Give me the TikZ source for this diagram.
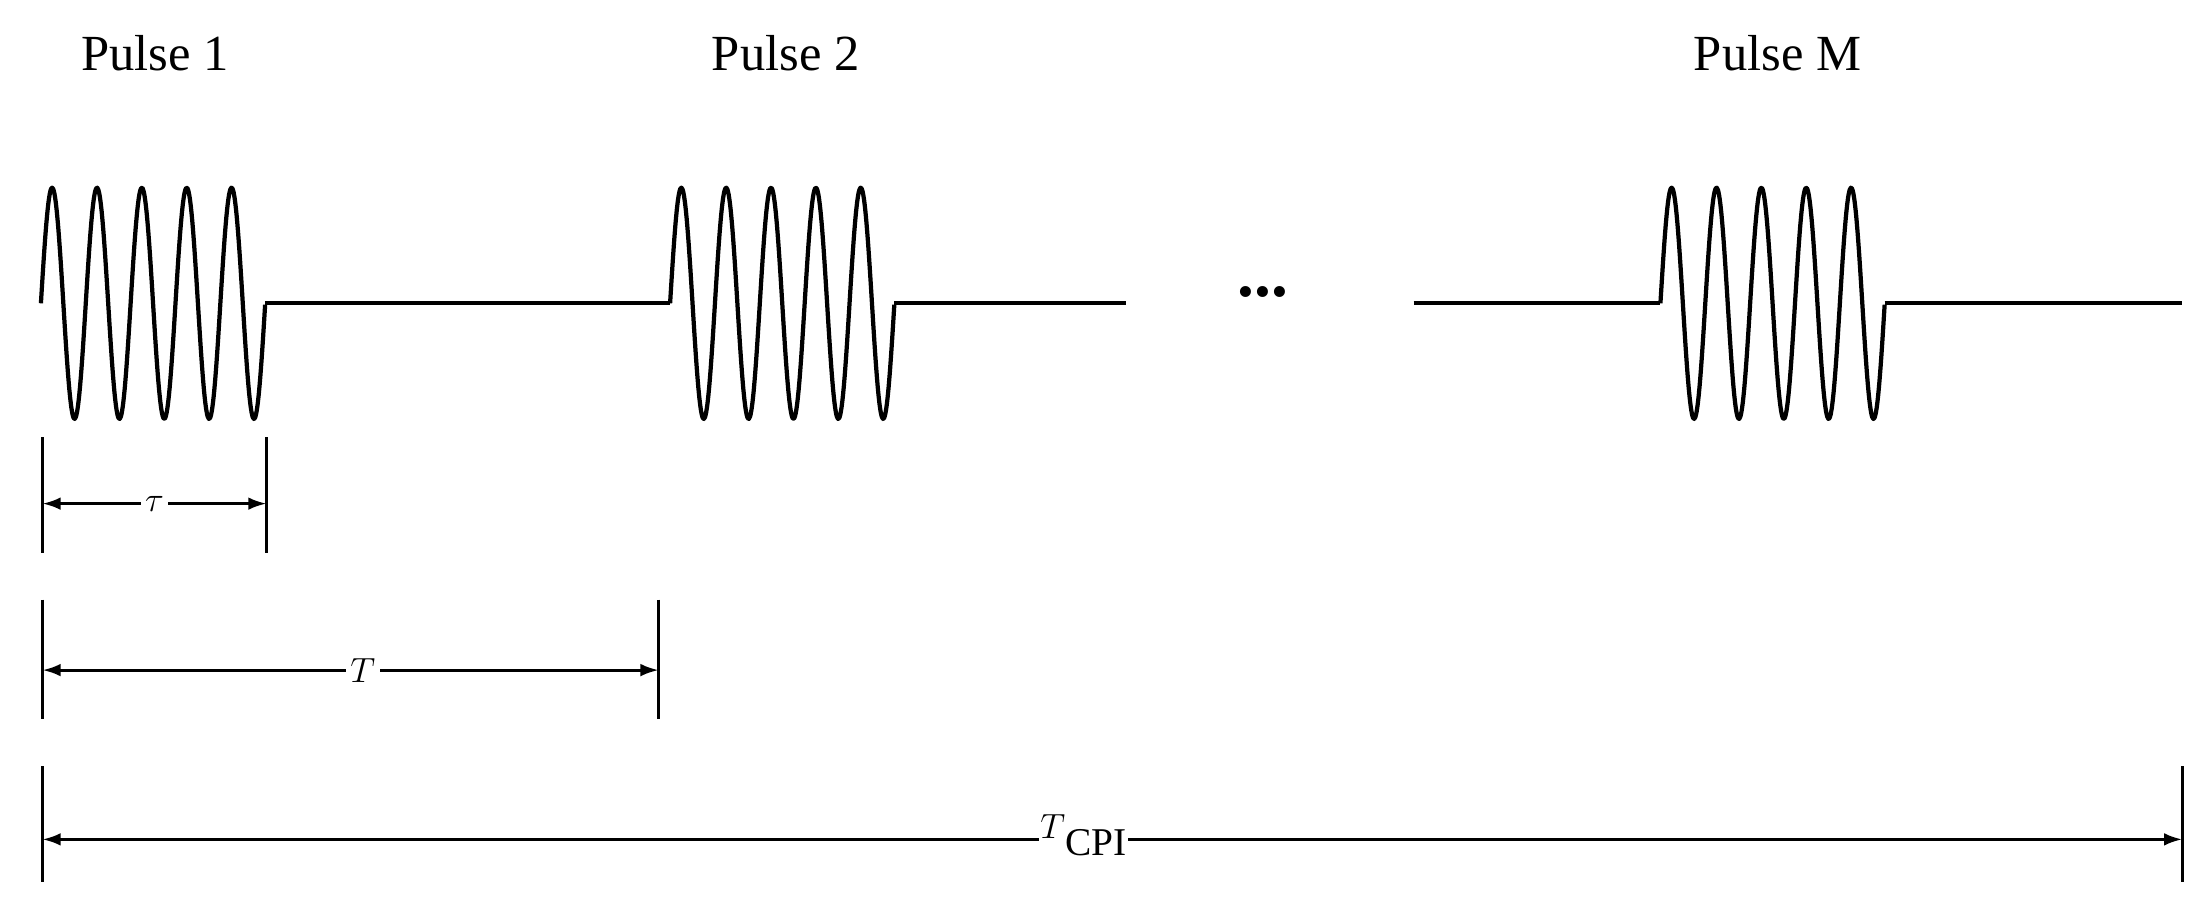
\documentclass[tikz,border=0pt]{standalone}
\usepackage{fontspec}
\setmainfont{Liberation Serif}
\usetikzlibrary{arrows.meta}
\begin{document}
\begin{tikzpicture}[x=1bp,y=-1bp,line width=3bp,
  wave/.style={line join=round},
  dimline/.style={line width=2.2bp,{Latex[length=13bp,width=9bp]}-{Latex[length=13bp,width=9bp]}},
  tick/.style={line width=2.2bp},
  lbl/.style={font=\fontsize{36}{40}\selectfont},
  dlbl/.style={font=\fontsize{36}{40}\selectfont\itshape,fill=white,inner sep=3bp}]
\useasboundingbox (0,0) rectangle (1568,648);
% pulse titles
\node[lbl] (p1) at (110,38) {Pulse 1};
\node[lbl] (p2) at (557,38) {Pulse 2};
\node[lbl] (pM) at (1260,38) {Pulse M};
% waveforms
\foreach \s in {29,475,1177}{
  \draw[wave] plot[domain=0:5,samples=200,smooth] ({\s+31.8*\x},{215-82*sin(360*\x)}) -- ++(0,0);
}
\draw[wave] (188,215) -- (475,215);
\draw[wave] (634,215) -- (798,215);
\draw[wave] (1002,215) -- (1177,215);
\draw[wave] (1336,215) -- (1547,215);
\node[font=\fontsize{48}{48}\selectfont\bfseries] (dots) at (895,207) {...};
% tau
\coordinate (ta) at (30,357); \coordinate (tb) at (189,357);
\draw[tick] (30,310) -- (30,392); \draw[tick] (189,310) -- (189,392);
\draw[dimline] (ta) -- (tb) node[midway,dlbl] (tau) {$\tau$};
% T
\coordinate (Ta) at (30,475); \coordinate (Tb) at (467,475);
\draw[tick] (30,425) -- (30,510); \draw[tick] (467,425) -- (467,510);
\draw[dimline] (Ta) -- (Tb) node[pos=0.52,dlbl] (Tl) {$T$};
% TCPI
\coordinate (Ca) at (30,595); \coordinate (Cb) at (1547,595);
\draw[tick] (30,543) -- (30,625); \draw[tick] (1547,543) -- (1547,625);
\draw[dimline] (Ca) -- (Cb);
\node[dlbl,inner sep=1bp] (Cl) at (768,592) {$T$\raisebox{-0.35em}{\upshape\fontsize{28}{30}\selectfont CPI}};
\end{tikzpicture}
\end{document}
